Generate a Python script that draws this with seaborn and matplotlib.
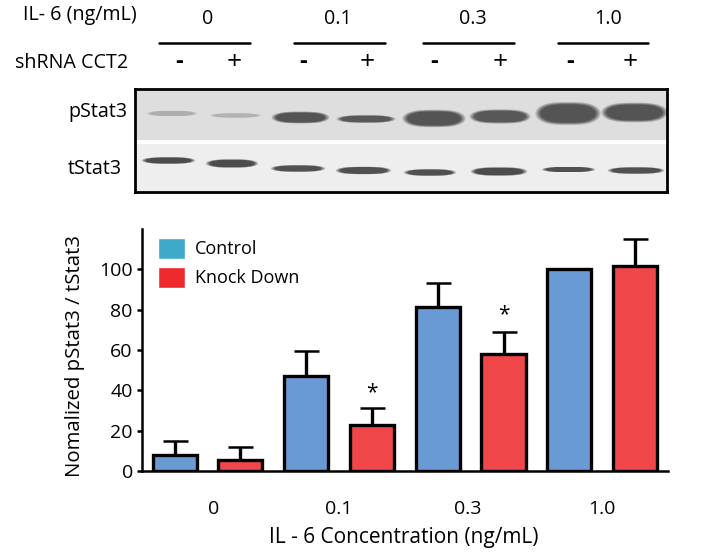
import numpy
import pandas
import seaborn
import matplotlib
matplotlib.use("Agg")
import matplotlib.pyplot as plt
from matplotlib.lines import Line2D
from matplotlib.patches import Patch
from matplotlib.transforms import ScaledTranslation

WIDTH, HEIGHT = 713, 554

concentrations = ["0", "0.1", "0.3", "1.0"]
control_values = [8, 47, 81.5, 100]
knockdown_values = [5.7, 23, 58, 101.5]
control_tops = [14.7, 59.5, 93.2, numpy.nan]
knockdown_tops = [12, 31, 69, 115]
y_ticks = [0, 20, 40, 60, 80, 100]
shrna_signs = ["-", "+", "-", "+", "-", "+", "-", "+"]

# blot bands: left, right, middle, half height, grey level (picture pixels)
pstat3_bands = [
    (148, 195, 113, 2.6, 0.68),
    (211, 259, 115, 2.2, 0.70),
    (273, 327, 117, 5.5, 0.33),
    (338, 393, 118.5, 3.6, 0.35),
    (404, 463, 118, 8, 0.33),
    (471, 528, 116, 6.5, 0.35),
    (537, 598, 113, 10.5, 0.33),
    (603, 665, 112, 9, 0.33),
]
tstat3_bands = [
    (143, 193, 160, 3.2, 0.30),
    (207, 256, 163, 4, 0.30),
    (272, 323, 168, 3.2, 0.32),
    (337, 389, 170, 3.6, 0.32),
    (405, 454, 172, 3.2, 0.32),
    (472, 525, 171, 4, 0.30),
    (543, 593, 169, 2.6, 0.32),
    (609, 662, 170, 3.2, 0.32),
]


def px_rect(left, top, right, bottom):
    return [left / WIDTH, 1 - bottom / HEIGHT, (right - left) / WIDTH, (bottom - top) / HEIGHT]


def put_text(x, y, text, size=14.2, ha="center", **kwargs):
    fig.text(x / WIDTH, 1 - y / HEIGHT, text, fontsize=size, ha=ha, va="center", color="black", **kwargs)


def blot_image(left, top, right, bottom):
    xs, ys = numpy.meshgrid(numpy.arange(left, right), numpy.arange(top, bottom))
    image = numpy.where(ys < 139.5, 0.87, 0.93)
    image = numpy.where((ys >= 139.5) & (ys < 144), 1.0, image)
    for start, stop, middle, half, grey in pstat3_bands + tstat3_bands:
        centre = (start + stop) / 2
        half_width = (stop - start) / 2
        dist = (numpy.abs(xs - centre) / half_width) ** 3 + (numpy.abs(ys - middle) / half) ** 2
        alpha = numpy.clip((1.3 - dist) / 0.6, 0, 1)
        image = image * (1 - alpha) + grey * alpha
    return image


seaborn.set_theme(style="ticks")
plt.rcParams["font.family"] = ["Open Sans", "DejaVu Sans"]

fig = plt.figure(figsize=(WIDTH / 100, HEIGHT / 100), dpi=100)

# western blot panel
blot_ax = fig.add_axes(px_rect(135, 89, 667, 192))
blot_ax.imshow(blot_image(135, 89, 667, 192), cmap="gray", vmin=0, vmax=1, aspect="auto",
               interpolation="bilinear")
blot_ax.set_xticks([])
blot_ax.set_yticks([])
for spine in blot_ax.spines.values():
    spine.set_linewidth(2)
    spine.set_color("black")

put_text(80, 15, "IL- 6 (ng/mL)")
put_text(72, 63, "shRNA CCT2")
put_text(98, 112, "pStat3")
put_text(95, 169, "tStat3")
for label, x in zip(concentrations, [208, 338, 473, 608]):
    put_text(x, 19, label)
for start, stop in [(159, 250), (294, 385), (423, 514), (558, 648)]:
    fig.add_artist(Line2D([start / WIDTH, stop / WIDTH], [1 - 43 / HEIGHT] * 2, color="black", lw=1.8))
for sign, x in zip(shrna_signs, [179, 234, 303, 367, 434, 500, 570, 630]):
    if sign == "+":
        put_text(x, 62, sign, size=19)
    else:
        put_text(x, 62, sign, size=17, fontweight="bold")

# bar chart
ax = fig.add_axes(px_rect(141.7, 229, 668, 471))
df = pandas.DataFrame({
    "conc": concentrations * 2,
    "value": control_values + knockdown_values,
    "group": ["Control"] * 4 + ["Knock Down"] * 4,
})
seaborn.barplot(data=df, x="conc", y="value", hue="group", order=concentrations,
                palette=["#6A9AD4", "#EF474A"], width=1, gap=0.33, edgecolor="black",
                linewidth=2.4, saturation=1, legend=False, ax=ax)

for bars, values, tops in zip(ax.containers, [control_values, knockdown_values], [control_tops, knockdown_tops]):
    centres = [bar.get_x() + bar.get_width() / 2 for bar in bars]
    upper = numpy.array(tops) - numpy.array(values)
    ax.errorbar(centres, values, yerr=[numpy.zeros(4), upper], fmt="none", ecolor="black",
                elinewidth=2.4, capsize=9, capthick=1.8, zorder=1)

bar_1, bar_2 = ax.containers[1][1], ax.containers[1][2]
for bar, y in [(bar_1, 39), (bar_2, 77.5)]:
    ax.text(bar.get_x() + bar.get_width() / 2, y, "*", ha="center", va="center", fontsize=15, color="black")

ax.set_xlim(-0.5, 3.5)
ax.set_ylim(0, 120)
ax.set_yticks(y_ticks)
ax.set_xlabel("")
ax.set_ylabel("")
ax.tick_params(axis="x", length=0, labelsize=14, pad=21, labelcolor="black")
ax.tick_params(axis="y", length=3.4, width=1.8, labelsize=14, pad=3, color="black", labelcolor="black")
for label, shift in zip(ax.get_xticklabels(), [6, 0, -3, 0]):
    label.set_transform(label.get_transform() + ScaledTranslation(shift / 100, 0, fig.dpi_scale_trans))
for side in ["top", "right"]:
    ax.spines[side].set_visible(False)
for side in ["left", "bottom"]:
    ax.spines[side].set_linewidth(1.8)
    ax.spines[side].set_color("black")

put_text(75, 356, "Nomalized pStat3 / tStat3", size=14.7, rotation=90)
put_text(404, 538, "IL - 6 Concentration (ng/mL)", size=15)

handles = [Patch(facecolor="#3FA9C9", label="Control"), Patch(facecolor="#EE2A2E", label="Knock Down")]
legend = ax.legend(handles=handles, loc="upper left", bbox_to_anchor=((158 - 141.7) / 526.3, (471 - 238) / 242),
                   frameon=False, fontsize=13, handlelength=1.5, handleheight=1.4, handletextpad=0.55,
                   labelspacing=0.45, borderpad=0, borderaxespad=0)
for text in legend.get_texts():
    text.set_color("black")

fig.savefig("out.png", dpi=100)
